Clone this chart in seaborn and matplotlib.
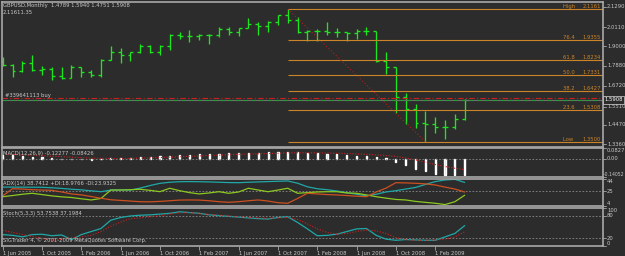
import numpy as np
import pandas as pd
import matplotlib.pyplot as plt
import matplotlib.transforms as mtransforms
import seaborn as sns

# monthly bars, Jun 2005 .. May 2009
months = pd.date_range('2005-06-01', '2009-05-01', freq='MS')

opens = [1.818, 1.793, 1.756, 1.806, 1.765, 1.769, 1.728, 1.720, 1.780, 1.752,
         1.737, 1.822, 1.870, 1.851, 1.866, 1.902, 1.868, 1.904, 1.966, 1.958,
         1.962, 1.964, 1.967, 1.999, 1.982, 2.005, 2.030, 2.018, 2.043, 2.081,
         2.053, 1.985, 1.987, 1.991, 1.985, 1.983, 1.978, 1.991, 1.988, 1.818,
         1.780, 1.610, 1.537, 1.456, 1.450, 1.433, 1.435, 1.4789]
highs = [1.841, 1.796, 1.818, 1.850, 1.787, 1.781, 1.783, 1.793, 1.781, 1.764,
         1.826, 1.903, 1.889, 1.870, 1.914, 1.906, 1.910, 1.972, 1.982, 1.995,
         1.972, 1.972, 2.012, 2.010, 2.006, 2.062, 2.043, 2.049, 2.081, 2.1161,
         2.068, 1.995, 1.999, 2.043, 2.005, 1.985, 1.999, 2.014, 1.990, 1.870,
         1.783, 1.633, 1.568, 1.529, 1.494, 1.475, 1.508, 1.5940]
lows = [1.787, 1.725, 1.754, 1.756, 1.735, 1.706, 1.710, 1.716, 1.725, 1.722,
        1.726, 1.820, 1.806, 1.818, 1.860, 1.860, 1.849, 1.879, 1.941, 1.927,
        1.937, 1.914, 1.956, 1.966, 1.962, 2.005, 1.966, 1.985, 2.024, 2.034,
        1.976, 1.933, 1.933, 1.966, 1.956, 1.933, 1.941, 1.966, 1.812, 1.741,
        1.514, 1.452, 1.427, 1.350, 1.402, 1.364, 1.422, 1.4751]
closes = [1.793, 1.756, 1.806, 1.765, 1.769, 1.728, 1.720, 1.780, 1.752, 1.737,
          1.822, 1.870, 1.851, 1.866, 1.902, 1.868, 1.904, 1.966, 1.958, 1.962,
          1.964, 1.967, 1.999, 1.982, 2.005, 2.030, 2.018, 2.043, 2.081, 2.053,
          1.985, 1.987, 1.991, 1.985, 1.983, 1.978, 1.991, 1.988, 1.818, 1.780,
          1.610, 1.537, 1.456, 1.450, 1.433, 1.435, 1.479, 1.5908]

macd_main = [0.030, 0.025, 0.021, 0.017, 0.012, 0.006, 0.001, -0.002, -0.005, -0.007,
             -0.004, 0.002, 0.006, 0.009, 0.012, 0.015, 0.018, 0.023, 0.027, 0.031,
             0.034, 0.036, 0.039, 0.042, 0.044, 0.046, 0.048, 0.050, 0.053, 0.055,
             0.050, 0.046, 0.042, 0.038, 0.034, 0.029, 0.024, 0.020, 0.014, 0.003,
             -0.022, -0.050, -0.077, -0.097, -0.116, -0.125, -0.127, -0.12277]
macd_signal = [0.036, 0.033, 0.030, 0.027, 0.024, 0.020, 0.016, 0.012, 0.008, 0.005,
               0.003, 0.002, 0.002, 0.003, 0.005, 0.007, 0.009, 0.012, 0.015, 0.019,
               0.022, 0.025, 0.028, 0.031, 0.034, 0.036, 0.038, 0.040, 0.042, 0.045,
               0.046, 0.046, 0.045, 0.044, 0.042, 0.040, 0.037, 0.034, 0.030, 0.025,
               0.018, 0.006, -0.009, -0.026, -0.044, -0.060, -0.073, -0.08426]

adx = [31.6, 31.5, 31.4, 31.3, 31.2, 30.5, 29.5, 28.2, 27.3, 25.8,
       24.4, 27.0, 27.2, 27.0, 30.0, 34.0, 37.3, 39.0, 39.8, 40.0,
       39.8, 39.5, 39.0, 38.5, 38.3, 39.0, 39.5, 40.0, 40.5, 41.0,
       37.5, 32.0, 29.0, 27.5, 25.5, 23.0, 20.5, 18.0, 20.5, 24.0,
       26.0, 28.5, 31.0, 35.5, 40.0, 42.5, 43.5, 38.7412]
plus_di = [16.7, 18.5, 20.5, 22.0, 20.0, 18.0, 16.5, 15.5, 13.5, 11.7,
           14.0, 27.0, 27.0, 27.5, 28.1, 26.5, 24.5, 29.7, 26.0, 23.0,
           21.0, 22.5, 24.4, 22.0, 24.0, 29.7, 27.0, 24.4, 27.0, 29.7,
           22.0, 23.0, 24.0, 24.4, 24.4, 22.5, 22.0, 19.5, 16.7, 14.5,
           12.5, 11.7, 9.5, 8.0, 6.6, 4.6, 9.0, 18.9766]
minus_di = [18.0, 29.0, 28.5, 27.5, 27.0, 26.5, 24.0, 21.0, 19.5, 17.0,
            14.3, 12.0, 11.0, 10.0, 9.0, 8.8, 9.5, 10.5, 11.5, 11.7,
            11.5, 10.5, 9.0, 8.1, 9.0, 10.5, 11.7, 10.0, 7.5, 6.6,
            14.0, 22.0, 21.0, 20.0, 19.4, 18.5, 17.5, 16.7, 24.0, 30.0,
            38.3, 38.0, 37.4, 36.5, 34.8, 31.5, 28.5, 23.9325]

stoch_main = [30, 28, 24, 30, 31, 27, 29, 17, 30, 38,
              46, 68, 75, 79, 81, 82, 84, 86, 90, 88,
              86, 82, 80, 78, 76, 74, 72, 71, 75, 77,
              62, 45, 27, 28, 31, 38, 45, 46, 28, 18,
              15, 17, 16, 15, 15, 24, 33, 53.7538]
stoch_signal = [41, 36, 30, 25, 20, 15, 18, 22, 24, 28,
                38, 52, 63, 72, 74, 77, 80, 84, 87, 88,
                85, 83, 81, 79, 77, 75, 74, 73, 74, 75,
                70, 58, 45, 36, 31, 33, 38, 42, 40, 33,
                22, 17, 15, 15, 16, 18, 24, 37.1984]

fib_names = ['High', '76.4', '61.8', '50.0', '38.2', '23.6', 'Low']
fib_prices = [2.1161, 1.9355, 1.8234, 1.7331, 1.6427, 1.5308, 1.3500]
price_ticks = [2.1290, 2.0110, 1.9000, 1.7880, 1.6720, 1.5510, 1.4470, 1.3360]
order_price = 1.6010
order_label = '#339641113 buy'

BG = '#2c2c2c'
FG = '#c8c8c8'
EDGE = '#a8a8a8'
BAR = '#1ee61e'
FIB = '#cc8428'
FS = 3.8

sns.set_theme(style='dark', rc={'axes.facecolor': BG, 'figure.facecolor': BG,
                                'text.color': FG, 'axes.edgecolor': EDGE})
plt.rcParams['font.family'] = ['DejaVu Sans']

W, H = 625, 256
fig = plt.figure(figsize=(W / 100, H / 100), dpi=100)
idx = np.arange(len(months))
df = pd.DataFrame({'bar': idx, 'adx': adx, 'pdi': plus_di, 'mdi': minus_di,
                   'k': stoch_main, 'd': stoch_signal, 'sig': macd_signal})


def pane(top, bottom):
    ax = fig.add_axes([2 / W, 1 - bottom / H, 601 / W, (bottom - top) / H])
    ax.set_facecolor(BG)
    for s in ax.spines.values():
        s.set_color(EDGE)
        s.set_linewidth(1.2)
    ax.set_xlim(-0.07, 61.07)
    ax.set_xticks([])
    ax.set_yticks([])
    return ax


def right_label(ax, value, text, va='center', x=607, size=FS):
    tr = mtransforms.blended_transform_factory(fig.transFigure, ax.transData)
    ax.plot([603 / W, 606 / W], [value, value], transform=tr, color=EDGE,
            lw=0.6, clip_on=False)
    fig.text(x / W, value, text, transform=tr, fontsize=size, color=FG, va=va, ha='left')


def level(ax, value):
    ax.axhline(value, color='#8a8a8a', lw=0.6, ls=(0, (2, 2)))


# ---- price pane
ax = pane(2, 146.5)
ax.set_ylim(1.3223, 2.1565)
ax.vlines(idx, lows, highs, color=BAR, lw=0.95)
ax.hlines(opens, idx - 0.3, idx, color=BAR, lw=0.95)
ax.hlines(closes, idx, idx + 0.3, color=BAR, lw=0.95)

hi_i = int(np.argmax(highs))
lo_i = int(np.argmin(lows))
ax.hlines(fib_prices, hi_i, 61.07, color=FIB, lw=0.8)
ax.plot([hi_i, lo_i], [highs[hi_i], lows[lo_i]], color='#b02020', lw=0.8, ls=(0, (1, 2)))
tr = mtransforms.blended_transform_factory(fig.transFigure, ax.transData)
for name, p in zip(fib_names, fib_prices):
    fig.text(563 / W, p, name + ' ', transform=tr, fontsize=FS, color=FIB, va='bottom')
    fig.text(601 / W, p, f'{p:.4f}', transform=tr, fontsize=FS, color=FIB, va='bottom', ha='right')

ax.axhline(closes[-1], color='#707070', lw=0.8)
ax.axhline(closes[-1], color='#2a9a3a', lw=0.8, ls=(0, (4, 3)))
ax.axhline(order_price, color='#cc2020', lw=0.8, ls=(0, (5, 2, 1, 2)))
fig.text(5 / W, order_price, order_label, transform=tr, fontsize=FS, color=FG, va='bottom')

for p in price_ticks:
    right_label(ax, p, f'{p:.4f}')
fig.text(604.5 / W, closes[-1], f'{closes[-1]:.4f}', transform=tr, fontsize=FS, color='white',
         va='center', bbox=dict(boxstyle='square,pad=0.2', fc=BG, ec='#d8d8d8', lw=0.5))

fig.text(3 / W, 1 - 6 / H, 'GBPUSD,Monthly  %.4f %.4f %.4f %.4f'
         % (opens[-1], highs[-1], lows[-1], closes[-1]), fontsize=FS, color=FG, va='center')
fig.text(3 / W, 1 - 13 / H, '%.4f%.2f' % (fib_prices[0], fib_prices[-1]),
         fontsize=FS, color=FG, va='center')

# ---- MACD pane
ax = pane(148, 177)
ax.set_ylim(-0.14052, 0.0827)
level(ax, 0)
ax.bar(idx, macd_main, width=0.12, color='#d8d8d8')
sns.lineplot(data=df, x='bar', y='sig', ax=ax, color='#d02020', lw=0.8, ls=(0, (1, 1.5)))
ax.set_xlabel('')
ax.set_ylabel('')
right_label(ax, 0.0827, '0.0827', va='top')
right_label(ax, 0, '0.00')
right_label(ax, -0.14052, '-0.14052', va='bottom', x=603.5, size=3.3)
fig.text(3 / W, 1 - 154 / H, 'MACD(12,26,9) %.5f %.5f' % (macd_main[-1], macd_signal[-1]),
         fontsize=FS, color=FG, va='center')

# ---- ADX pane
ax = pane(178.8, 205.8)
ax.set_ylim(2.7, 44.3)
level(ax, 25)
sns.lineplot(data=df, x='bar', y='adx', ax=ax, color='#20a8a8', lw=0.9)
sns.lineplot(data=df, x='bar', y='pdi', ax=ax, color='#8cc820', lw=0.9)
sns.lineplot(data=df, x='bar', y='mdi', ax=ax, color='#cc5020', lw=0.9)
ax.set_xlabel('')
ax.set_ylabel('')
right_label(ax, 44.3, '44', va='top')
right_label(ax, 25, '25')
right_label(ax, 2.7, '4', va='bottom')
fig.text(3 / W, 1 - 183 / H, 'ADX(14) %.4f +DI:%.4f -DI:%.4f' % (adx[-1], plus_di[-1], minus_di[-1]),
         fontsize=FS, color=FG, va='center')

# ---- Stochastic pane
ax = pane(208, 246)
ax.set_ylim(0, 100)
level(ax, 80)
level(ax, 20)
sns.lineplot(data=df, x='bar', y='k', ax=ax, color='#20a8a8', lw=0.9)
sns.lineplot(data=df, x='bar', y='d', ax=ax, color='#d02020', lw=0.8, ls=(0, (1, 1.5)))
ax.set_ylabel('')
ax.set_xlabel('')
right_label(ax, 100, '100', va='top')
right_label(ax, 80, '80')
right_label(ax, 20, '20')
right_label(ax, 0, '0', va='bottom')
fig.text(3 / W, 1 - 213 / H, 'Stoch(5,3,3) %.4f %.4f' % (stoch_main[-1], stoch_signal[-1]),
         fontsize=FS, color=FG, va='center')
fig.text(3 / W, 1 - 240 / H, 'SIGTrader 4, \u00a9 2001-2009 MetaQuotes Software Corp.',
         fontsize=FS, color=FG, va='center')

tick_pos = [i for i, d in enumerate(months) if d.month in (2, 6, 10)]
ax.set_xticks(tick_pos)
ax.set_xticklabels([f'1 {months[i]:%b %Y}' for i in tick_pos], ha='left')
ax.tick_params(axis='x', bottom=True, length=3, width=0.6, color=EDGE,
               labelcolor=FG, labelsize=FS, pad=0.8)

fig.savefig('out.png', dpi=100, facecolor=BG)
